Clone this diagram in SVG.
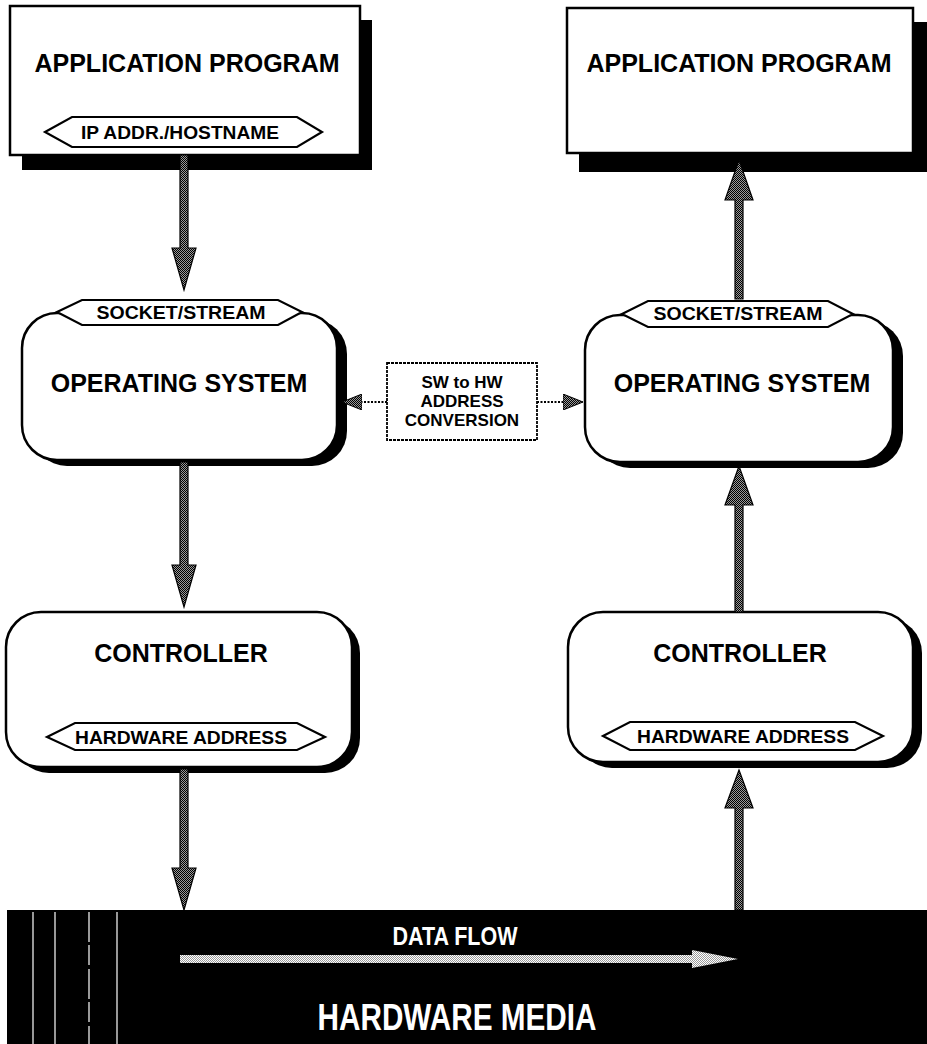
<svg xmlns="http://www.w3.org/2000/svg" width="927" height="1044" viewBox="0 0 927 1044">
  <defs>
    <!-- dithered fill used for the flow arrows -->
    <pattern id="dither" width="2" height="2" patternUnits="userSpaceOnUse">
      <rect width="2" height="2" fill="#9a9a9a"/>
      <rect width="1" height="1" fill="#000"/>
      <rect x="1" y="1" width="1" height="1" fill="#000"/>
    </pattern>
    <pattern id="ditherLight" width="2" height="2" patternUnits="userSpaceOnUse">
      <rect width="2" height="2" fill="#fff"/>
      <rect width="1" height="1" fill="#9a9a9a"/>
      <rect x="1" y="1" width="1" height="1" fill="#9a9a9a"/>
    </pattern>
    <marker id="dotHead" viewBox="0 0 20 16" refX="20" refY="8" markerWidth="20" markerHeight="16" markerUnits="userSpaceOnUse" orient="auto">
      <path d="M0,0 L20,8 L0,16 Z" fill="url(#dither)" stroke="#000" stroke-width="1"/>
    </marker>
  </defs>
  <style>
    .box { fill: #fff; stroke: #000; stroke-width: 2.5; }
    .shadow { fill: #000; }
    .hex { fill: #fff; stroke: #000; stroke-width: 2.2; }
    .title { font-family: "Liberation Sans", Arial, sans-serif; font-weight: bold; font-size: 25px; fill: #000; text-anchor: middle; }
    .tag { font-family: "Liberation Sans", Arial, sans-serif; font-weight: bold; font-size: 18px; fill: #000; text-anchor: middle; }
    .small { font-family: "Liberation Sans", Arial, sans-serif; font-weight: bold; font-size: 17px; fill: #000; text-anchor: middle; }
    .arrow { fill: url(#dither); stroke: #000; stroke-width: 1.2; }
    .dotted { fill: none; stroke: #000; stroke-width: 2; stroke-dasharray: 2 1.5; }
    .media { font-family: "Liberation Sans", Arial, sans-serif; font-weight: bold; fill: #fff; text-anchor: middle; }
  </style>

  <rect width="927" height="1044" fill="#fff"/>

  <!-- Application program (sender) -->
  <g id="app-left">
    <rect class="shadow" x="22" y="20" width="350" height="150"/>
    <rect class="box" x="10" y="6" width="350" height="149"/>
    <text class="title" x="187" y="72">APPLICATION PROGRAM</text>
    <polygon class="hex" points="45,132 72,117 297,117 322,132 297,147 72,147"/>
    <text class="tag" x="180" y="139" textLength="198" lengthAdjust="spacingAndGlyphs">IP ADDR./HOSTNAME</text>
  </g>

  <!-- Application program (receiver) -->
  <g id="app-right">
    <rect class="shadow" x="579" y="22" width="348" height="150"/>
    <rect class="box" x="567" y="8" width="346" height="145"/>
    <text class="title" x="739" y="72">APPLICATION PROGRAM</text>
  </g>

  <!-- Operating system (sender) -->
  <g id="os-left">
    <rect class="shadow" x="32" y="319" width="315" height="147" rx="35"/>
    <rect class="box" x="22" y="313" width="315" height="147" rx="35"/>
    <polygon class="hex" points="57,312 82,300 278,300 302,312 278,325 82,325"/>
    <text class="tag" x="181" y="319" textLength="169" lengthAdjust="spacingAndGlyphs">SOCKET/STREAM</text>
    <text class="title" x="179" y="392" font-size="24">OPERATING SYSTEM</text>
  </g>

  <!-- Operating system (receiver) -->
  <g id="os-right">
    <rect class="shadow" x="595" y="321" width="308" height="147" rx="35"/>
    <rect class="box" x="585" y="315" width="308" height="147" rx="35"/>
    <polygon class="hex" points="622,314 648,301 828,301 853,314 828,327 648,327"/>
    <text class="tag" x="738" y="320" textLength="169" lengthAdjust="spacingAndGlyphs">SOCKET/STREAM</text>
    <text class="title" x="742" y="392" font-size="24">OPERATING SYSTEM</text>
  </g>

  <!-- Address conversion -->
  <g id="conversion">
    <rect x="387" y="363" width="150" height="77" fill="#fff" stroke="#000" stroke-width="1.8" stroke-dasharray="3 1"/>
    <text class="small" x="462" y="388">SW to HW</text>
    <text class="small" x="462" y="407">ADDRESS</text>
    <text class="small" x="462" y="426">CONVERSION</text>
  </g>

  <!-- Controller (sender) -->
  <g id="ctrl-left">
    <rect class="shadow" x="14" y="618" width="346" height="155" rx="35"/>
    <rect class="box" x="6" y="612" width="346" height="155" rx="35"/>
    <text class="title" x="181" y="662">CONTROLLER</text>
    <polygon class="hex" points="47,737 75,723 297,723 325,737 297,750 75,750"/>
    <text class="tag" x="181" y="744" font-size="19" textLength="212" lengthAdjust="spacingAndGlyphs">HARDWARE ADDRESS</text>
  </g>

  <!-- Controller (receiver) -->
  <g id="ctrl-right">
    <rect class="shadow" x="577" y="618" width="345" height="150" rx="35"/>
    <rect class="box" x="568" y="612" width="345" height="150" rx="35"/>
    <text class="title" x="740" y="662">CONTROLLER</text>
    <polygon class="hex" points="603,736 630,722 855,722 883,736 855,750 630,750"/>
    <text class="tag" x="743" y="743" font-size="19" textLength="212" lengthAdjust="spacingAndGlyphs">HARDWARE ADDRESS</text>
  </g>

  <!-- Hardware media -->
  <g id="media">
    <rect x="7" y="910" width="920" height="134" fill="#000"/>
    <g stroke="#fff" stroke-width="1.2">
      <line x1="33" y1="912" x2="33" y2="1044"/>
      <line x1="55" y1="912" x2="55" y2="1044"/>
      <line x1="89" y1="912" x2="89" y2="1044" stroke-dasharray="30 3 20 4"/>
      <line x1="117" y1="912" x2="117" y2="1044"/>
    </g>
    <text class="media" x="455" y="945" font-size="25" textLength="125" lengthAdjust="spacingAndGlyphs">DATA FLOW</text>
    <path d="M180,955 L692,955 L692,950 L738,959 L692,968 L692,963 L180,963 Z" fill="url(#ditherLight)"/>
    <text class="media" x="457" y="1030" font-size="36" textLength="279" lengthAdjust="spacingAndGlyphs">HARDWARE MEDIA</text>
  </g>

  <!-- Connectors -->
  <g id="connectors">
    <!-- sender side, downward -->
    <path class="arrow" d="M180,155 L188,155 L188,248 L196,248 L184,290 L172,248 L180,248 Z"/>
    <path class="arrow" d="M180,462 L188,462 L188,565 L196,565 L184,607 L172,565 L180,565 Z"/>
    <path class="arrow" d="M180,769 L188,769 L188,868 L196,868 L184,910 L172,868 L180,868 Z"/>
    <!-- receiver side, upward -->
    <path class="arrow" d="M735,299 L743,299 L743,200 L753,200 L739,160 L725,200 L735,200 Z"/>
    <path class="arrow" d="M735,612 L743,612 L743,505 L753,505 L739,466 L725,505 L735,505 Z"/>
    <path class="arrow" d="M735,910 L743,910 L743,808 L753,808 L739,770 L725,808 L735,808 Z"/>
    <!-- address conversion links -->
    <line class="dotted" x1="387" y1="402" x2="342" y2="402" marker-end="url(#dotHead)"/>
    <line class="dotted" x1="537" y1="402" x2="583" y2="402" marker-end="url(#dotHead)"/>
  </g>
</svg>
